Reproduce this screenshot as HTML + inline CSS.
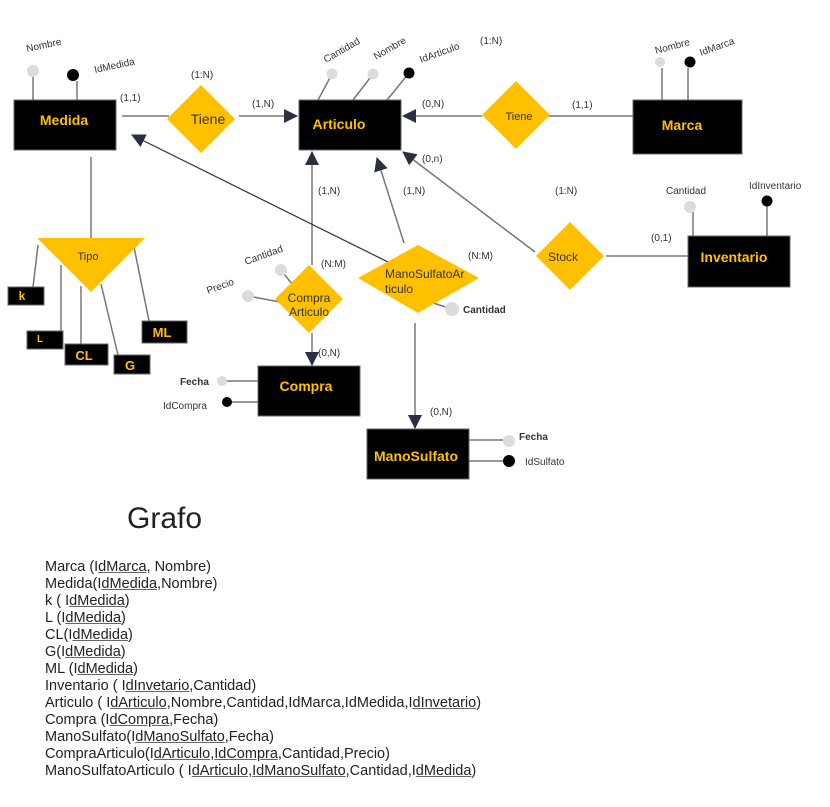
<!DOCTYPE html>
<html><head><meta charset="utf-8"><style>
body{margin:0;background:#fff;width:830px;height:807px;overflow:hidden;position:relative;font-family:"Liberation Sans",sans-serif}
svg{position:absolute;left:0;top:0}
.t{position:absolute;left:45px;top:559px;font-size:14.5px;line-height:17px;color:#222}
.t u{text-decoration-color:#666}
.g{position:absolute;left:127px;top:502px;font-size:30px;color:#222}
</style></head><body>
<svg width="830" height="807" viewBox="0 0 830 807" font-family="Liberation Sans, sans-serif">
<defs><marker id="a" markerWidth="10" markerHeight="10" refX="9" refY="5" orient="auto" markerUnits="userSpaceOnUse"><path d="M0,0 L10,5 L0,10z" fill="#2b3040"/></marker>
<marker id="b" markerWidth="14" markerHeight="14" refX="13" refY="7" orient="auto" markerUnits="userSpaceOnUse"><path d="M0,0 L14,7 L0,14z" fill="#2b3040"/></marker></defs>
<g stroke="#777" stroke-width="1.5" fill="none">
<line x1="122" y1="116" x2="169" y2="116"/>
<line x1="239" y1="116" x2="297" y2="116" marker-end="url(#b)"/>
<line x1="482" y1="116" x2="403" y2="116" marker-end="url(#b)"/>
<line x1="548" y1="116" x2="633" y2="116"/>
<line x1="535" y1="252" x2="403" y2="152" marker-end="url(#b)"/>
<line x1="606" y1="256" x2="688" y2="256"/>
<line x1="404" y1="243" x2="377" y2="158" marker-end="url(#b)"/>
<line x1="312" y1="265" x2="312" y2="152" marker-end="url(#b)"/>
<line x1="388" y1="262" x2="132" y2="135" stroke="#333" stroke-width="1.2" marker-end="url(#b)"/>
<line x1="312" y1="333" x2="312" y2="365" marker-end="url(#b)"/>
<line x1="415" y1="323" x2="415" y2="428" marker-end="url(#b)"/>
<line x1="91" y1="157" x2="91" y2="240"/>
<line x1="38" y1="245" x2="33" y2="287"/><line x1="61" y1="265" x2="61" y2="331"/>
<line x1="81" y1="286" x2="81" y2="345"/><line x1="101" y1="284" x2="118" y2="355"/>
<line x1="134" y1="247" x2="149" y2="321"/>
<line x1="33" y1="77" x2="33" y2="100"/><line x1="77" y1="81" x2="77" y2="100"/>
<line x1="332" y1="74" x2="318" y2="100"/><line x1="373" y1="74" x2="353" y2="100"/><line x1="409" y1="73" x2="387" y2="100"/>
<line x1="662" y1="68" x2="662" y2="100"/><line x1="688" y1="68" x2="688" y2="100"/>
<line x1="693" y1="207" x2="693" y2="236"/><line x1="767" y1="201" x2="767" y2="236"/>
<line x1="222" y1="381" x2="258" y2="381"/><line x1="227" y1="402" x2="262" y2="402"/>
<line x1="469" y1="440" x2="503" y2="440"/><line x1="469" y1="461" x2="503" y2="461"/>
<line x1="281" y1="270" x2="292" y2="284"/><line x1="248" y1="296" x2="280" y2="302"/>
<line x1="452" y1="309" x2="430" y2="302"/>
</g>
<g fill="#000" stroke="#666" stroke-width="1">
<rect x="14" y="100" width="102" height="50"/><rect x="299" y="100" width="102" height="50"/>
<rect x="633" y="100" width="109" height="54"/><rect x="688" y="236" width="102" height="51"/>
<rect x="258" y="366" width="102" height="50"/><rect x="367" y="429" width="102" height="50"/>
<rect x="8" y="287" width="36" height="18"/><rect x="27" y="331" width="36" height="18"/>
<rect x="65" y="344" width="43" height="21"/><rect x="114" y="355" width="36" height="19"/>
<rect x="142" y="321" width="45" height="22"/>
</g>
<g fill="#ffc000">
<polygon points="201,85 235,119 201,153 167,119"/><polygon points="516,81 550,115 516,149 482,115"/>
<polygon points="570,222 604,256 570,290 536,256"/><polygon points="309,265 343,299 309,333 275,299"/>
<polygon points="358,278 418,245 479,278 418,313"/><polygon points="37,238 145,238 91,292"/>
</g>
<g fill="#ffc000" font-weight="bold" font-size="14" text-anchor="middle">
<text x="64" y="125">Medida</text><text x="339" y="129">Articulo</text><text x="682" y="130">Marca</text>
<text x="734" y="262">Inventario</text><text x="306" y="391">Compra</text><text x="416" y="461">ManoSulfato</text>
<text x="22" y="300" font-size="12">k</text><text x="40" y="342" font-size="10">L</text><text x="84" y="360" font-size="13">CL</text>
<text x="130" y="370" font-size="13">G</text><text x="162" y="337" font-size="13">ML</text>
</g>
<g fill="#333" font-size="12" text-anchor="middle">
<text x="208" y="124" font-size="14">Tiene</text><text x="519" y="120" font-size="11">Tiene</text>
<text x="563" y="261">Stock</text><text x="88" y="260" font-size="11">Tipo</text>
<text x="309" y="302">Compra</text><text x="309" y="316">Articulo</text>
<text x="385" y="278" text-anchor="start">ManoSulfatoAr</text><text x="385" y="293" text-anchor="start">ticulo</text>
</g>
<g font-size="10" fill="#333">
<text x="191" y="78">(1:N)</text><text x="120" y="101">(1,1)</text><text x="252" y="107">(1,N)</text>
<text x="422" y="107">(0,N)</text><text x="572" y="108">(1,1)</text><text x="422" y="162">(0,n)</text>
<text x="318" y="194">(1,N)</text><text x="403" y="194">(1,N)</text><text x="555" y="194">(1:N)</text>
<text x="651" y="241">(0,1)</text><text x="321" y="267">(N:M)</text><text x="468" y="259">(N:M)</text>
<text x="318" y="356">(0,N)</text><text x="430" y="415">(0,N)</text><text x="480" y="44">(1:N)</text>
<text x="666" y="194">Cantidad</text><text x="749" y="189">IdInventario</text>
<text x="180" y="385" font-weight="bold">Fecha</text><text x="163" y="409">IdCompra</text>
<text x="519" y="440" font-weight="bold">Fecha</text><text x="525" y="465">IdSulfato</text>
<text x="463" y="313" font-weight="bold">Cantidad</text>
<text transform="translate(27,52) rotate(-12)">Nombre</text>
<text transform="translate(95,73) rotate(-12)">IdMedida</text>
<text transform="translate(326,63) rotate(-30)">Cantidad</text>
<text transform="translate(376,60) rotate(-30)">Nombre</text>
<text transform="translate(421,63) rotate(-20)">IdArticulo</text>
<text transform="translate(656,54) rotate(-15)">Nombre</text>
<text transform="translate(701,56) rotate(-20)">IdMarca</text>
<text transform="translate(246,265) rotate(-20)">Cantidad</text>
<text transform="translate(208,294) rotate(-20)">Precio</text>
</g>
<g stroke="none">
<circle cx="33" cy="71" r="6" fill="#dcdce0"/><circle cx="73" cy="75" r="6" fill="#000"/>
<circle cx="332" cy="74" r="5.5" fill="#dcdce0"/><circle cx="373" cy="74" r="5.5" fill="#dcdce0"/><circle cx="409" cy="73" r="5.5" fill="#000"/>
<circle cx="660" cy="62" r="5" fill="#dcdce0"/><circle cx="690" cy="62" r="5.5" fill="#000"/>
<circle cx="690" cy="207" r="6" fill="#dcdce0"/><circle cx="767" cy="201" r="5.5" fill="#000"/>
<circle cx="222" cy="381" r="5" fill="#dcdce0"/><circle cx="227" cy="402" r="5" fill="#000"/>
<circle cx="509" cy="441" r="6" fill="#dcdce0"/><circle cx="509" cy="461" r="6" fill="#000"/>
<circle cx="281" cy="270" r="6" fill="#dcdce0"/><circle cx="248" cy="296" r="6" fill="#dcdce0"/>
<circle cx="452" cy="309" r="7" fill="#dcdce0"/>
</g>
</svg>
<div class="g">Grafo</div>
<div class="t">
Marca (I<u>dMarca</u>, Nombre)<br>
Medida(I<u>dMedida</u>,Nombre)<br>
k ( I<u>dMedida</u>)<br>
L (I<u>dMedida</u>)<br>
CL(I<u>dMedida</u>)<br>
G(I<u>dMedida</u>)<br>
ML (I<u>dMedida</u>)<br>
Inventario ( I<u>dInvetario</u>,Cantidad)<br>
Articulo ( I<u>dArticulo</u>,Nombre,Cantidad,IdMarca,IdMedida,I<u>dInvetario</u>)<br>
Compra (I<u>dCompra</u>,Fecha)<br>
ManoSulfato(I<u>dManoSulfato</u>,Fecha)<br>
CompraArticulo(I<u>dArticulo</u>,<u>IdCompra</u>,Cantidad,Precio)<br>
ManoSulfatoArticulo ( I<u>dArticulo</u>,<u>IdManoSulfato</u>,Cantidad,I<u>dMedida</u>)
</div>
</body></html>
